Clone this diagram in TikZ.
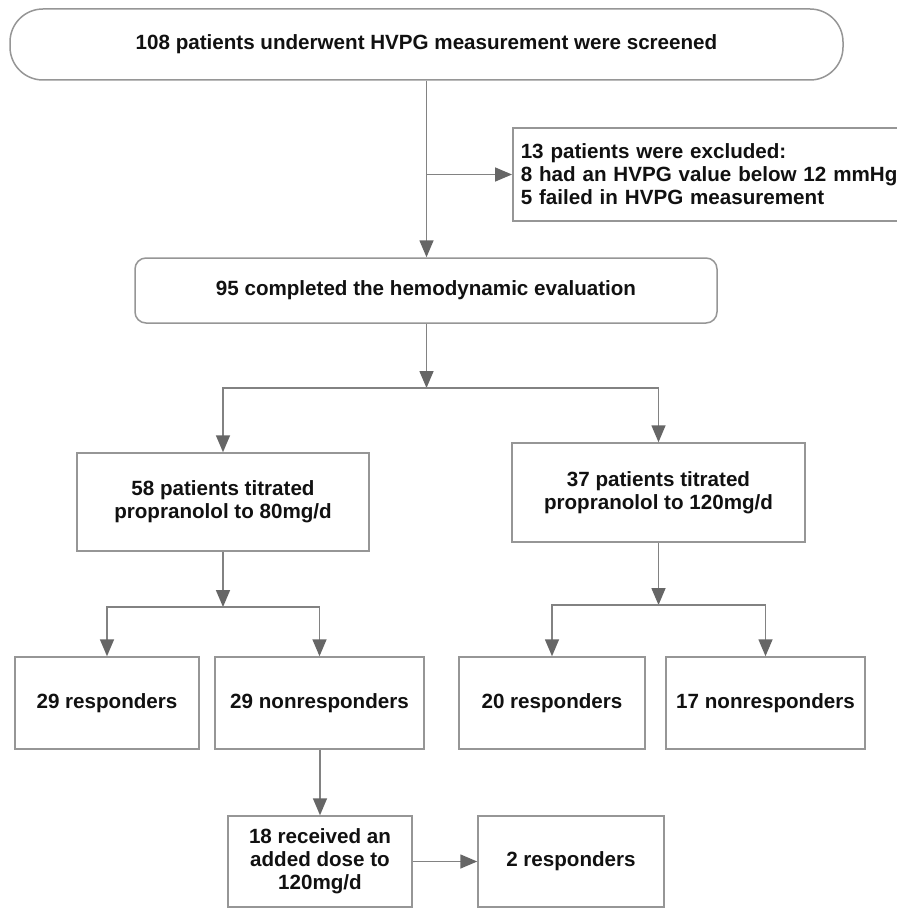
\documentclass[tikz,border=0pt]{standalone}
\usepackage{fontspec}
\setmainfont{Liberation Sans}
\usetikzlibrary{arrows.meta}
\definecolor{linec}{HTML}{828282}
\definecolor{boxc}{HTML}{969696}
\definecolor{tipc}{HTML}{666666}
\definecolor{textc}{HTML}{111111}
\begin{document}
\begin{tikzpicture}[x=1pt,y=-1pt,
  every node/.style={font=\bfseries\fontsize{20.6}{23}\selectfont, text=textc},
  box/.style={draw=boxc, line width=1.5pt, fill=white, align=center, inner sep=0pt},
  conn/.style={draw=linec, line width=1.6pt},
  arr/.style={conn, -{Triangle[length=17pt,width=14pt,color=tipc]}}]
\useasboundingbox[fill=white] (0,0) rectangle (896,909);

\node[box, rounded corners=33pt, minimum width=833pt, minimum height=71pt] (top) at (426.5,44.5)
  {108 patients underwent HVPG measurement were screened};
\node[box, rounded corners=11pt, minimum width=582pt, minimum height=65pt] (mid) at (426,290.5)
  {95 completed the hemodynamic evaluation};
\node[box, anchor=west, align=left, minimum width=420pt, text width=404pt, minimum height=93pt, inner xsep=8pt] (excl) at (512,174.5)
  {13 patients were excluded:\\8 had an HVPG value below 12 mmHg\\5 failed in HVPG measurement};

\node[box, minimum width=292pt, minimum height=98pt] (L) at (223,502)
  {58 patients titrated\\propranolol to 80mg/d};
\node[box, minimum width=293pt, minimum height=99pt] (R) at (658.5,492.5)
  {37 patients titrated\\propranolol to 120mg/d};

\node[box, minimum width=184pt, minimum height=92pt] (LR) at (107,703) {29 responders};
\node[box, minimum width=209pt, minimum height=92pt] (LN) at (319.5,703) {29 nonresponders};
\node[box, minimum width=186pt, minimum height=92pt] (RR) at (552,703) {20 responders};
\node[box, minimum width=199pt, minimum height=92pt] (RN) at (765.5,703) {17 nonresponders};

\node[box, minimum width=184pt, minimum height=91pt] (D) at (320,861.5)
  {18 received an\\added dose to\\120mg/d};
\node[box, minimum width=186pt, minimum height=91pt] (E) at (571,861.5) {2 responders};

\coordinate (b1) at (426.5,174.5);
\coordinate (j1) at (426.5,388);
\coordinate (j2) at (223,607);
\coordinate (j3) at (658.5,605);

\draw[arr] (top.south) -- (top.south |- mid.north);
\draw[arr] (b1) -- (excl.west);
\draw[arr] (top.south |- mid.south) -- (j1);
\draw[arr] (j1) -| (L.north);
\draw[arr] (j1) -| (R.north);
\draw[arr] (L.south) -- (j2);
\draw[arr] (j2) -| (LR.north);
\draw[arr] (j2) -| (LN.north);
\draw[arr] (R.south) -- (j3);
\draw[arr] (j3) -| (RR.north);
\draw[arr] (j3) -| (RN.north);
\draw[arr] (D.north |- LN.south) -- (D.north);
\draw[arr] (D.east) -- (E.west);
\end{tikzpicture}
\end{document}
